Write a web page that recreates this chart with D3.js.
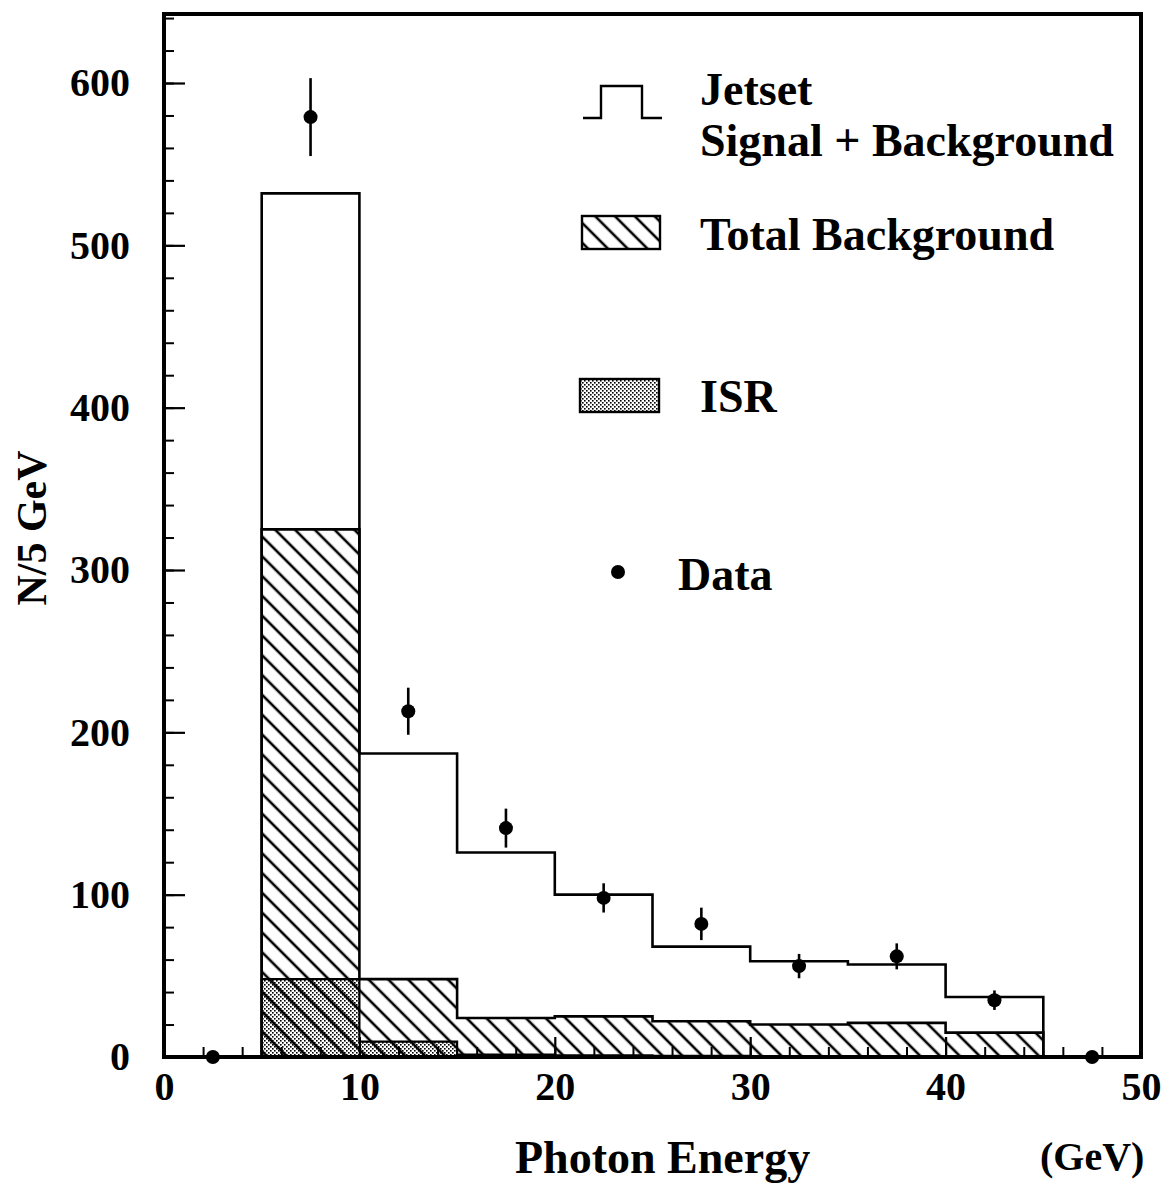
<!DOCTYPE html>
<html>
<head>
<meta charset="utf-8">
<script src="https://cdn.jsdelivr.net/npm/d3@7"></script>
<style>
  html, body { margin: 0; padding: 0; background: #fff; }
  svg { display: block; }
  text { font-family: "Liberation Serif", "Times New Roman", serif; font-weight: bold; fill: #000; }
</style>
</head>
<body>
<svg id="chart" width="1167" height="1189"></svg>
<script>
// ---- data ----
const binLow = [0, 5, 10, 15, 20, 25, 30, 35, 40, 45];
const binWidth = 5;
const jetset = [0, 532, 187, 126, 100, 68, 59, 57, 37, 0];          // Signal + Background
const totalBackground = [0, 325, 48, 24, 25, 22, 20, 21, 15, 0];
const isr = [0, 48, 9.5, 1.5, 1, 0.7, 0.5, 0.5, 0.5, 0];
const dataX = [2.5, 7.5, 12.5, 17.5, 22.5, 27.5, 32.5, 37.5, 42.5, 47.5];
const dataY = [0, 579, 213, 141, 98, 82, 56, 62, 35, 0];
const dataErr = [0, 24, 14.5, 12, 9, 10, 7.5, 8, 6, 0];
const xMajorTicks = [0, 10, 20, 30, 40, 50];
const yMajorTicks = [0, 100, 200, 300, 400, 500, 600];

const svg = d3.select("#chart");
const L = 164, R = 1141, T = 14, B = 1057;
const x = d3.scaleLinear().domain([0, 50]).range([L, R]);
const y = d3.scaleLinear().domain([0, 600]).range([B, 83]);

// patterns
const defs = svg.append("defs");
const hs = 14;
const hatch = defs.append("pattern").attr("id", "hatch")
  .attr("patternUnits", "userSpaceOnUse").attr("width", hs).attr("height", hs)
  .attr("patternTransform", "rotate(-45)");
hatch.append("line").attr("x1", 2).attr("y1", -2).attr("x2", 2).attr("y2", hs + 2)
  .attr("stroke", "#000").attr("stroke-width", 2.6);

const dots = defs.append("pattern").attr("id", "dots")
  .attr("patternUnits", "userSpaceOnUse").attr("width", 4).attr("height", 4);
dots.append("rect").attr("width", 4).attr("height", 4).attr("fill", "#fff");
dots.append("rect").attr("x", 0).attr("y", 0).attr("width", 1.6).attr("height", 1.6).attr("fill", "#000");
dots.append("rect").attr("x", 2).attr("y", 2).attr("width", 1.6).attr("height", 1.6).attr("fill", "#000");

// step path builders (through scales)
function stepPath(vals) {
  let p = "";
  vals.forEach((v, i) => {
    const x0 = x(binLow[i]), x1 = x(binLow[i] + binWidth), yy = y(v);
    p += (i === 0 ? "M" : "L") + x0 + "," + yy + "L" + x1 + "," + yy;
  });
  return p;
}
function areaPath(vals) {
  const idx = vals.map((v, i) => i).filter(i => vals[i] > 0);
  const first = idx[0], last = idx[idx.length - 1];
  let p = "M" + x(binLow[first]) + "," + y(0);
  for (let i = first; i <= last; i++) {
    p += "L" + x(binLow[i]) + "," + y(vals[i]) + "L" + x(binLow[i] + binWidth) + "," + y(vals[i]);
  }
  p += "L" + x(binLow[last] + binWidth) + "," + y(0) + "Z";
  return p;
}

// ISR (stippled)
svg.append("path").attr("d", areaPath(isr)).attr("fill", "url(#dots)")
  .attr("stroke", "#000").attr("stroke-width", 2.2);
// total background (hatched over)
svg.append("path").attr("d", areaPath(totalBackground)).attr("fill", "url(#hatch)")
  .attr("stroke", "#000").attr("stroke-width", 2.6);
// Jetset outline
svg.append("path").attr("d", stepPath(jetset)).attr("fill", "none")
  .attr("stroke", "#000").attr("stroke-width", 2.6);

// data points
const dg = svg.append("g");
dataX.forEach((dx, i) => {
  if (dataErr[i] > 0) {
    dg.append("line").attr("x1", x(dx)).attr("x2", x(dx))
      .attr("y1", y(dataY[i] - dataErr[i])).attr("y2", y(dataY[i] + dataErr[i]))
      .attr("stroke", "#000").attr("stroke-width", 2.6);
  }
  dg.append("circle").attr("cx", x(dx)).attr("cy", y(dataY[i])).attr("r", 7).attr("fill", "#000");
});

// axes
const xMinor = d3.range(0, 50, 2);
svg.append("g").attr("transform", `translate(0,${B})`)
  .call(d3.axisBottom(x).tickValues(xMinor).tickSize(-10).tickFormat(""))
  .call(g => { g.select(".domain").remove(); g.selectAll("line").attr("stroke-width", 2); });
svg.append("g").attr("transform", `translate(0,${B})`)
  .call(d3.axisBottom(x).tickValues(xMajorTicks).tickSize(-20).tickPadding(15).tickFormat(d3.format("d")))
  .call(g => {
    g.select(".domain").remove();
    g.selectAll("line").attr("stroke-width", 2.2);
    g.selectAll("text").attr("font-size", 40).style("font-family", '"Liberation Serif", serif').style("font-weight", "bold").attr("fill", "#000");
  });
const yMinor = d3.range(0, 641, 20);
svg.append("g").attr("transform", `translate(${L},0)`)
  .call(d3.axisLeft(y).tickValues(yMinor).tickSize(-10).tickFormat(""))
  .call(g => { g.select(".domain").remove(); g.selectAll("line").attr("stroke-width", 2); });
svg.append("g").attr("transform", `translate(${L},0)`)
  .call(d3.axisLeft(y).tickValues(yMajorTicks).tickSize(-21).tickPadding(34).tickFormat(d3.format("d")))
  .call(g => {
    g.select(".domain").remove();
    g.selectAll("line").attr("stroke-width", 2.2);
    g.selectAll("text").attr("font-size", 40).style("font-family", '"Liberation Serif", serif').style("font-weight", "bold").attr("fill", "#000");
  });

// frame
svg.append("rect").attr("x", L).attr("y", T).attr("width", R - L).attr("height", B - T)
  .attr("fill", "none").attr("stroke", "#000").attr("stroke-width", 4);

// axis titles
svg.append("text").attr("x", 515).attr("y", 1173).attr("font-size", 46).text("Photon Energy");
svg.append("text").attr("x", 1040).attr("y", 1170).attr("font-size", 40).text("(GeV)");
svg.append("text").attr("transform", "translate(46,528) rotate(-90)")
  .attr("text-anchor", "middle").attr("font-size", 42).text("N/5 GeV");

// legend
const lg = svg.append("g");
lg.append("path").attr("d", "M583,118L601,118L601,86L642,86L642,118L662,118")
  .attr("fill", "none").attr("stroke", "#000").attr("stroke-width", 2.4);
lg.append("text").attr("x", 700).attr("y", 105).attr("font-size", 46).text("Jetset");
lg.append("text").attr("x", 700).attr("y", 156).attr("font-size", 46).text("Signal + Background");
lg.append("rect").attr("x", 582).attr("y", 216).attr("width", 78).attr("height", 33)
  .attr("fill", "url(#hatch)").attr("stroke", "#000").attr("stroke-width", 2.4);
lg.append("text").attr("x", 700).attr("y", 250).attr("font-size", 46).text("Total Background");
lg.append("rect").attr("x", 580).attr("y", 379).attr("width", 79).attr("height", 33)
  .attr("fill", "url(#dots)").attr("stroke", "#000").attr("stroke-width", 2.4);
lg.append("text").attr("x", 700).attr("y", 412).attr("font-size", 46).text("ISR");
lg.append("circle").attr("cx", 618).attr("cy", 572).attr("r", 7).attr("fill", "#000");
lg.append("text").attr("x", 678).attr("y", 590).attr("font-size", 46).text("Data");
</script>
</body>
</html>
